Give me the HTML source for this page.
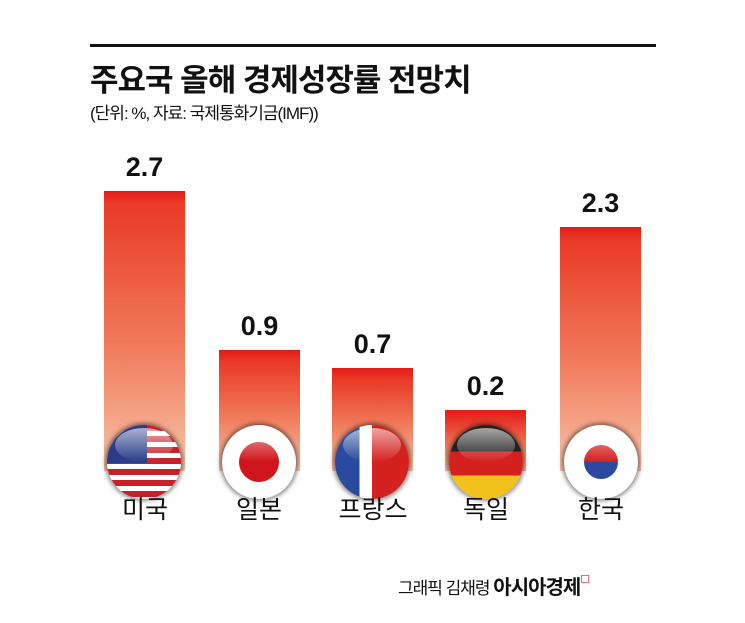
<!DOCTYPE html>
<html><head><meta charset="utf-8"><style>
body{margin:0;width:745px;height:623px;background:#fff;overflow:hidden;font-family:"Liberation Sans","Noto Sans CJK KR",sans-serif;position:relative}
.a{position:absolute}
.bar{position:absolute;width:81px;background:linear-gradient(#e41a17 0px,#ea3a26 12px,#f07a5a 55%,#f7c2a8 100%)}
.v{position:absolute;width:81px;text-align:center;font-size:27px;font-weight:bold;color:#111}
.f{position:absolute;width:74px;height:74px;border-radius:50%;top:425px;box-shadow:0 0 4px 2px rgba(0,0,0,.45);overflow:hidden}
.f::after{content:"";position:absolute;left:8px;top:3px;width:58px;height:34px;border-radius:50%;background:linear-gradient(rgba(255,255,255,.6),rgba(255,255,255,0))}
.l{position:absolute;width:100px;text-align:center;font-size:25px;color:#111;top:490px}
</style></head><body>
<div class="a" style="left:90px;top:44px;width:566px;height:3px;background:#111"></div>
<div class="a" style="left:90px;top:55px;font-size:31px;font-weight:bold;color:#111;letter-spacing:-1px">주요국 올해 경제성장률 전망치</div>
<div class="a" style="left:90px;top:99px;font-size:17px;color:#111;letter-spacing:-1px">(단위: %, 자료: 국제통화기금(IMF))</div>

<div class="bar" style="left:104px;top:191px;height:280px"></div>
<div class="bar" style="left:219px;top:350px;height:121px"></div>
<div class="bar" style="left:332px;top:368px;height:103px"></div>
<div class="bar" style="left:445px;top:410px;height:61px;background:linear-gradient(#e41a17,#f07a5a 60%,#f7b89c)"></div>
<div class="bar" style="left:560px;top:227px;height:244px"></div>

<div class="v" style="left:104px;top:152px">2.7</div>
<div class="v" style="left:219px;top:311px">0.9</div>
<div class="v" style="left:332px;top:329px">0.7</div>
<div class="v" style="left:445px;top:371px">0.2</div>
<div class="v" style="left:560px;top:188px">2.3</div>

<div class="f" style="left:107px;background:repeating-linear-gradient(#c8202a 0 6px,#fff 6px 11px)"><div class="a" style="left:0;top:0;width:40px;height:38px;background:#2a3d8a"></div></div>
<div class="f" style="left:222px;background:#fff"><div class="a" style="left:17px;top:17px;width:40px;height:40px;border-radius:50%;background:#d0151c"></div></div>
<div class="f" style="left:335px;background:linear-gradient(90deg,#2a4aa0 0 33%,#fff 33% 50%,#d4211e 50%)"></div>
<div class="f" style="left:449px;background:linear-gradient(#222 0 36%,#d4211e 36% 68%,#f2c01a 68%)"></div>
<div class="f" style="left:564px;background:#fff"><div class="a" style="left:20px;top:20px;width:34px;height:34px;border-radius:50%;background:linear-gradient(#d4211e 50%,#2a4aa0 50%)"></div></div>

<div class="l" style="left:95px">미국</div>
<div class="l" style="left:209px">일본</div>
<div class="l" style="left:323px">프랑스</div>
<div class="l" style="left:436px">독일</div>
<div class="l" style="left:551px">한국</div>

<div class="a" style="left:398px;top:571px;font-size:17px;color:#111;letter-spacing:-1px">그래픽 김채령 <b style="font-size:20px">아시아경제</b><span style="color:#d4211e;font-size:12px;vertical-align:top">◻</span></div>
</body></html>
